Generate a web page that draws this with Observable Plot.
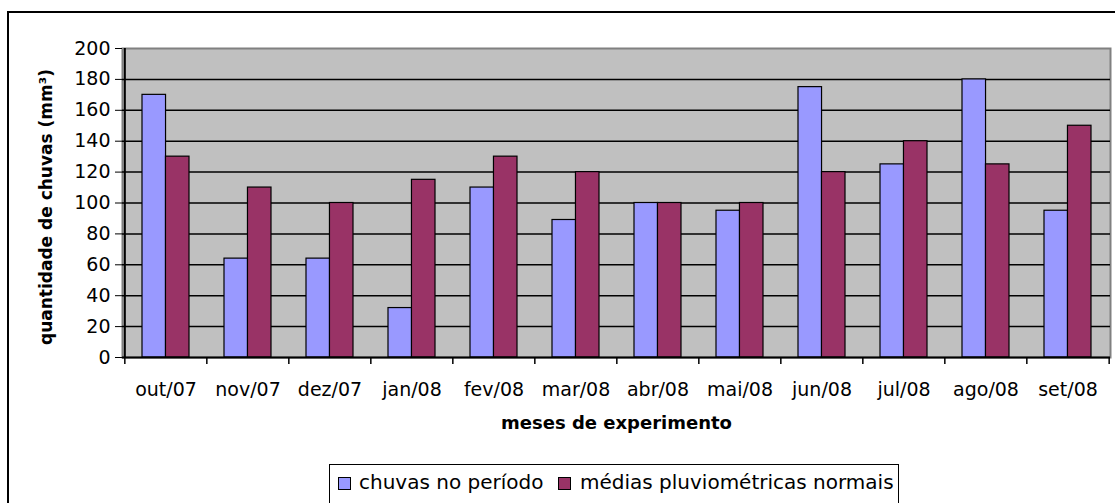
<!DOCTYPE html>
<html>
<head>
<meta charset="utf-8">
<script src="https://cdn.jsdelivr.net/npm/d3@7"></script>
<script src="https://cdn.jsdelivr.net/npm/@observablehq/plot@0.6"></script>
<style>
  html, body { margin: 0; padding: 0; overflow: hidden; background: #fff; }
  #wrap { position: relative; width: 1115px; height: 503px; font-family: "DejaVu Sans", sans-serif; }
  #chart { position: absolute; left: 0; top: 0; }
  #frame { position: absolute; left: 7px; top: 11px; width: 1300px; height: 700px;
           border-left: 2px solid #000; border-top: 2px solid #000; z-index: 5; pointer-events: none; }
  #legend { position: absolute; left: 329px; top: 464px; width: 568px; height: 38px;
            border: 1px solid #000; background: #fff; font-size: 20px; color: #000; }
  .sw { position: absolute; top: 12px; width: 11px; height: 11px; border: 1px solid #000; }
  .lt { position: absolute; top: 5px; white-space: nowrap; }
</style>
</head>
<body>
<div id="wrap">
  <div id="chart"></div>
  <div id="frame"></div>
  <div id="legend"></div>
</div>
<script>
const months = ["out/07","nov/07","dez/07","jan/08","fev/08","mar/08","abr/08","mai/08","jun/08","jul/08","ago/08","set/08"];
const chuvas = [170, 64, 64, 32, 110, 89, 100, 95, 175, 125, 180, 95];
const medias = [130, 110, 100, 115, 130, 120, 100, 100, 120, 140, 125, 150];
const yTicks = [0, 20, 40, 60, 80, 100, 120, 140, 160, 180, 200];
const seriesNames = ["chuvas no período", "médias pluviométricas normais"];
const seriesColors = ["#9999ff", "#993366"];
const xTitle = "meses de experimento";
const yTitle = "quantidade de chuvas (mm³)";

const data = months.map((m, i) => ({mes: m, chuvas: chuvas[i], media: medias[i]}));

const W = 1115, H = 450, ML = 122, MR = 5, MT = 48, MB = 93;
const step = (W - ML - MR) / months.length;
const pad = 0.43;
const band = step * (1 - pad);

const plot = Plot.plot({
  width: W, height: H,
  marginLeft: ML, marginRight: MR, marginTop: MT, marginBottom: MB,
  style: {fontFamily: "DejaVu Sans, sans-serif", background: "transparent", color: "#000"},
  x: {type: "band", domain: months, paddingInner: pad, paddingOuter: pad / 2},
  y: {domain: [0, 200]},
  marks: [
    Plot.frame({fill: "#c0c0c0", stroke: "#808080", strokeWidth: 2}),
    Plot.ruleY(yTicks.filter(t => t > 0 && t < 200), {stroke: "#000", strokeWidth: 1.5}),
    Plot.barY(data, {x: "mes", y: "chuvas", fill: seriesColors[0], stroke: "#000", strokeWidth: 1.2, insetRight: band / 2}),
    Plot.barY(data, {x: "mes", y: "media", fill: seriesColors[1], stroke: "#000", strokeWidth: 1.2, insetLeft: band / 2}),
    Plot.ruleY([0], {stroke: "#000", strokeWidth: 2}),
    Plot.ruleX([months[0]], {x: d => d, y1: 200, y2: 0, dx: -step / 2, stroke: "#000", strokeWidth: 2}),
    Plot.ruleX(months, {x: d => d, y1: 0, y2: 0, insetBottom: -7, dx: -step / 2, stroke: "#000", strokeWidth: 1.5}),
    Plot.ruleX([months[months.length - 1]], {x: d => d, y1: 0, y2: 0, insetBottom: -7, dx: step / 2, stroke: "#000", strokeWidth: 1.5}),
    Plot.axisY({ticks: yTicks, tickSize: 7, tickPadding: 5, fontSize: 19, label: null, stroke: "#000", fill: "#000"}),
    Plot.axisX({tickSize: 0, tickPadding: 25, fontSize: 19, label: null, fill: "#000"}),
    Plot.text([xTitle], {frameAnchor: "bottom", dy: 71, fontSize: 18, fontWeight: "bold", fill: "#000"}),
    Plot.text([yTitle], {frameAnchor: "left", textAnchor: "middle", dx: -76, dy: 4, rotate: -90, fontSize: 17, fontWeight: "bold", fill: "#000"})
  ]
});
document.getElementById("chart").appendChild(plot);

// legend
const lg = document.getElementById("legend");
const swX = [8, 228], txX = [29, 250];
seriesNames.forEach((name, i) => {
  const s = document.createElement("div");
  s.className = "sw"; s.style.left = swX[i] + "px"; s.style.background = seriesColors[i];
  lg.appendChild(s);
  const t = document.createElement("div");
  t.className = "lt"; t.style.left = txX[i] + "px"; t.textContent = name;
  lg.appendChild(t);
});
</script>
</body>
</html>
